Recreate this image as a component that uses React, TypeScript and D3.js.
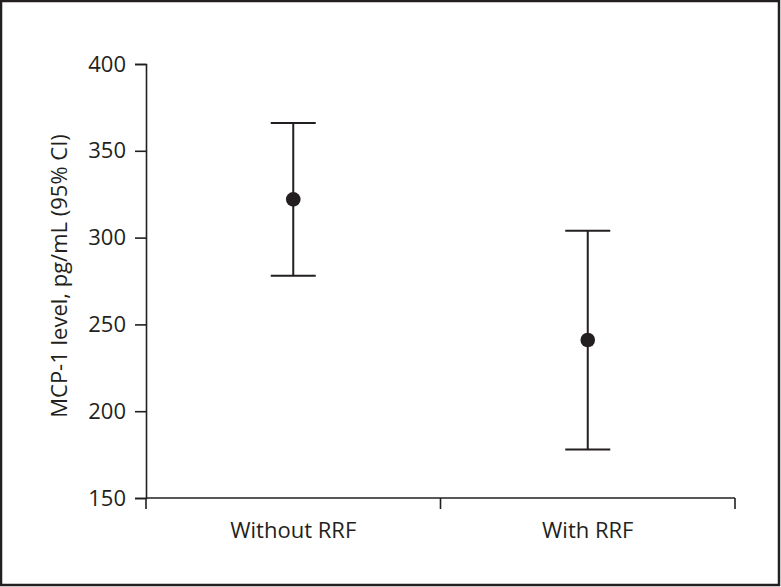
import React, { useEffect, useRef } from 'react';
import * as d3 from 'd3';

const groups = ['Without RRF', 'With RRF'];
const means = [322, 241];
const lower = [278, 178];
const upper = [366, 304];
const yTicks = [150, 200, 250, 300, 350, 400];

const FONT = "'Open Sans', 'Noto Sans', Arial, sans-serif";
const INK = '#231f20';

const App = () => {
  const svgRef = useRef<SVGSVGElement>(null);

  useEffect(() => {
    if (!svgRef.current) return;
    const width = 781;
    const height = 587;
    const svg = d3.select(svgRef.current);
    svg.selectAll('*').remove();
    svg.attr('width', width).attr('height', height);

    svg.append('rect').attr('width', width).attr('height', height).attr('fill', '#fff');
    // outer frame
    svg.append('rect')
      .attr('x', 1).attr('y', 1)
      .attr('width', width - 3).attr('height', height - 3)
      .attr('fill', 'none').attr('stroke', INK).attr('stroke-width', 2.5);

    const left = 146, right = 735, top = 64, bottom = 498;

    const x = d3.scaleBand().domain(groups).range([left, right]).padding(0);
    const y = d3.scaleLinear().domain([150, 400]).range([bottom, top]);

    // y axis
    const ya = svg.append('g').attr('transform', `translate(${left},0)`)
      .call(d3.axisLeft(y).tickValues(yTicks).tickSize(11).tickPadding(9));
    ya.select('.domain').attr('stroke', INK).attr('stroke-width', 1.6);
    ya.selectAll('.tick line').attr('stroke', INK).attr('stroke-width', 1.6);
    ya.selectAll('.tick text')
      .attr('font-family', FONT).attr('font-size', 22).attr('fill', INK);

    // x axis
    svg.append('line')
      .attr('x1', left).attr('x2', right).attr('y1', bottom).attr('y2', bottom)
      .attr('stroke', INK).attr('stroke-width', 1.6);
    const bounds = [left, ...groups.map(g => (x(g) as number) + x.bandwidth())];
    svg.selectAll('.xtick').data(bounds).enter().append('line')
      .attr('x1', d => d).attr('x2', d => d)
      .attr('y1', bottom).attr('y2', bottom + 11)
      .attr('stroke', INK).attr('stroke-width', 1.6);
    svg.selectAll('.xlabel').data(groups).enter().append('text')
      .attr('x', d => (x(d) as number) + x.bandwidth() / 2)
      .attr('y', bottom + 40)
      .attr('text-anchor', 'middle')
      .attr('font-family', FONT).attr('font-size', 22).attr('fill', INK)
      .text(d => d);

    // y axis title
    svg.append('text')
      .attr('transform', `translate(67,276) rotate(-90)`)
      .attr('text-anchor', 'middle')
      .attr('font-family', FONT).attr('font-size', 22).attr('fill', INK)
      .text('MCP-1 level, pg/mL (95% CI)');

    // error bars
    const capHalf = 22.5;
    groups.forEach((g, i) => {
      const cx = (x(g) as number) + x.bandwidth() / 2;
      const eb = svg.append('g').attr('stroke', INK).attr('stroke-width', 2);
      eb.append('line').attr('x1', cx).attr('x2', cx).attr('y1', y(upper[i])).attr('y2', y(lower[i]));
      eb.append('line').attr('x1', cx - capHalf).attr('x2', cx + capHalf).attr('y1', y(upper[i])).attr('y2', y(upper[i]));
      eb.append('line').attr('x1', cx - capHalf).attr('x2', cx + capHalf).attr('y1', y(lower[i])).attr('y2', y(lower[i]));
      svg.append('circle').attr('cx', cx).attr('cy', y(means[i])).attr('r', 7.3).attr('fill', INK);
    });
  }, []);

  return (
    <svg ref={svgRef} style={{ position: 'absolute', left: 0, top: 0, display: 'block' }} />
  );
};

export default App;
